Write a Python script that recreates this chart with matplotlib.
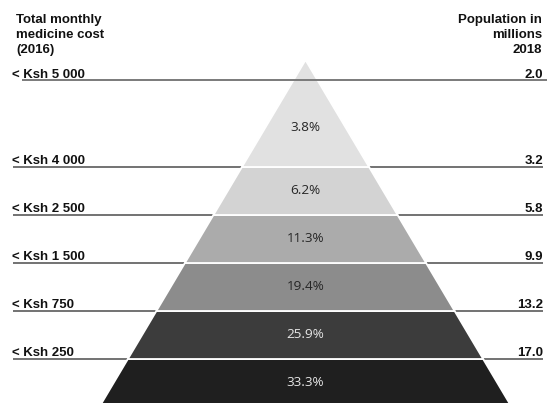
import matplotlib
matplotlib.use("Agg")
import matplotlib.pyplot as plt
from matplotlib.patches import Polygon

# ---- data (bottom tier -> top tier) ----
shares = [33.3, 25.9, 19.4, 11.3, 6.2, 3.8]
cost_labels = ["< Ksh 250", "< Ksh 750", "< Ksh 1 500", "< Ksh 2 500", "< Ksh 4 000", "< Ksh 5 000"]
population = [17.0, 13.2, 9.9, 5.8, 3.2, 2.0]
left_title = "Total monthly\nmedicine cost\n(2016)"
right_title = "Population in\nmillions\n2018"

# ---- layout (pixel-like coordinates) ----
W, H = 547, 403
apex_x, apex_y = 305.5, 60
base_y, base_half = 405, 205
tier_edges = [base_y, 359, 311, 263, 215, 167, apex_y]
top_line_y = 80
line_ys = tier_edges[1:6] + [top_line_y]
fills = ["#1f1f1f", "#3c3c3c", "#8c8c8c", "#ababab", "#d3d3d3", "#e1e1e1"]
txt_cols = ["#e6e6e6", "#e6e6e6", "#262626", "#262626", "#262626", "#262626"]

def half_w(y):
    return base_half * (y - apex_y) / (base_y - apex_y)

fig = plt.figure(figsize=(W / 100, H / 100), dpi=100)
ax = fig.add_axes([0, 0, 1, 1])
ax.set_xlim(0, W)
ax.set_ylim(H, 0)
ax.axis("off")

bold = dict(family=["Liberation Sans", "DejaVu Sans"], fontweight="bold", fontsize=9.5, color="#111111")

# lines
for i, y in enumerate(line_ys):
    if y == top_line_y:
        ax.plot([22, W], [y, y], color="#7a7a7a", lw=1.4, zorder=3, solid_capstyle="butt")
    else:
        ax.plot([13, 543], [y, y], color="#5a5a5a", lw=1.2, zorder=1, solid_capstyle="butt")

# pyramid tiers
for i, v in enumerate(shares):
    yb, yt = tier_edges[i], tier_edges[i + 1]
    hb, ht = half_w(yb), half_w(yt)
    pts = [(apex_x - hb, yb), (apex_x + hb, yb), (apex_x + ht, yt), (apex_x - ht, yt)]
    ax.add_patch(Polygon(pts, closed=True, facecolor=fills[i], edgecolor="white",
                         lw=1.3, zorder=2, joinstyle="miter"))
    if i == len(shares) - 1:
        ty = (yt + 2 * yb) / 3 - 4
    else:
        ty = (yb + yt) / 2
    ax.text(apex_x, ty, f"{v:.1f}%", ha="center", va="center", fontsize=9.7,
            family=["Open Sans", "DejaVu Sans"], color=txt_cols[i], zorder=4)

# side labels
for i, y in enumerate(line_ys):
    ax.text(12, y - 2.5, cost_labels[i], ha="left", va="baseline", zorder=5, **bold)
    ax.text(543, y - 2.5, f"{population[i]:.1f}", ha="right", va="baseline", zorder=5, **bold)

ax.text(16, 14, left_title, ha="left", va="top", linespacing=1.35, **bold)
ax.text(542, 14, right_title, ha="right", va="top", multialignment="right", linespacing=1.35, **bold)

fig.savefig("out.png", dpi=100)
